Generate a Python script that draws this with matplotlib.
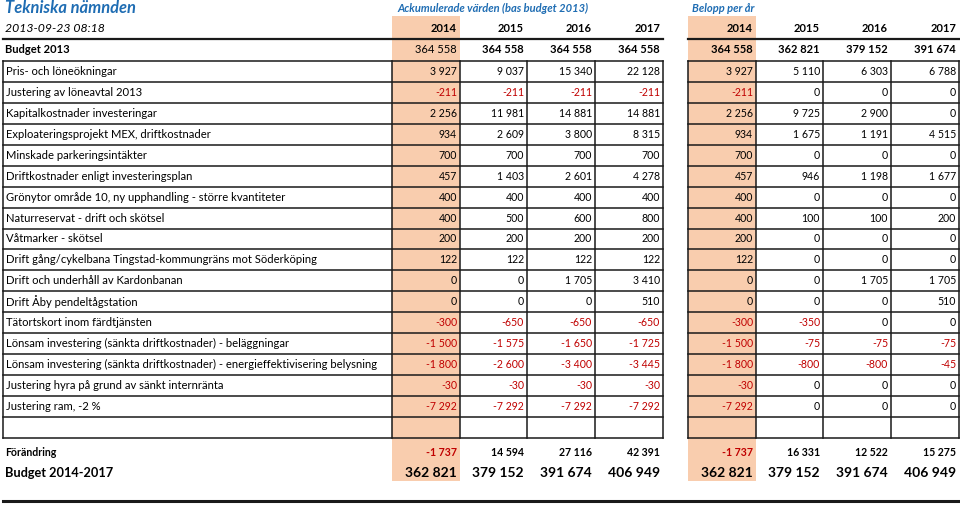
import matplotlib.pyplot as plt

plt.rcParams['font.family'] = ['Lato', 'DejaVu Sans']

title = "Tekniska nämnden"
timestamp = "2013-09-23 08:18"
group_titles = ["Ackumulerade värden (bas budget 2013)", "Belopp per år"]
years = ["2014", "2015", "2016", "2017"]

labels = [
    "Pris- och löneökningar",
    "Justering av löneavtal 2013",
    "Kapitalkostnader investeringar",
    "Exploateringsprojekt MEX, driftkostnader",
    "Minskade parkeringsintäkter",
    "Driftkostnader enligt investeringsplan",
    "Grönytor område 10, ny upphandling - större kvantiteter",
    "Naturreservat - drift och skötsel",
    "Våtmarker - skötsel",
    "Drift gång/cykelbana Tingstad-kommungräns mot Söderköping",
    "Drift och underhåll av Kardonbanan",
    "Drift Åby pendeltågstation",
    "Tätortskort inom färdtjänsten",
    "Lönsam investering (sänkta driftkostnader) - beläggningar",
    "Lönsam investering (sänkta driftkostnader) - energieffektivisering belysning",
    "Justering hyra på grund av sänkt internränta",
    "Justering ram, -2 %",
]

# accumulated values (bas budget 2013), 2014..2017
acc = [
    [3927, 9037, 15340, 22128],
    [-211, -211, -211, -211],
    [2256, 11981, 14881, 14881],
    [934, 2609, 3800, 8315],
    [700, 700, 700, 700],
    [457, 1403, 2601, 4278],
    [400, 400, 400, 400],
    [400, 500, 600, 800],
    [200, 200, 200, 200],
    [122, 122, 122, 122],
    [0, 0, 1705, 3410],
    [0, 0, 0, 510],
    [-300, -650, -650, -650],
    [-1500, -1575, -1650, -1725],
    [-1800, -2600, -3400, -3445],
    [-30, -30, -30, -30],
    [-7292, -7292, -7292, -7292],
]

# amount per year, 2014..2017
per_year = [
    [3927, 5110, 6303, 6788],
    [-211, 0, 0, 0],
    [2256, 9725, 2900, 0],
    [934, 1675, 1191, 4515],
    [700, 0, 0, 0],
    [457, 946, 1198, 1677],
    [400, 0, 0, 0],
    [400, 100, 100, 200],
    [200, 0, 0, 0],
    [122, 0, 0, 0],
    [0, 0, 1705, 1705],
    [0, 0, 0, 510],
    [-300, -350, 0, 0],
    [-1500, -75, -75, -75],
    [-1800, -800, -800, -45],
    [-30, 0, 0, 0],
    [-7292, 0, 0, 0],
]

budget_2013_acc = [364558, 364558, 364558, 364558]
budget_2013_per = [364558, 362821, 379152, 391674]
change_acc = [-1737, 14594, 27116, 42391]
change_per = [-1737, 16331, 12522, 15275]
budget_new_acc = [362821, 379152, 391674, 406949]
budget_new_per = [362821, 379152, 391674, 406949]

BLUE = '#1F6DB3'
RED = '#C00000'
ORANGE = '#F9CDAE'
LINE = '#1a1a1a'


def fmt(v):
    s = f"{abs(v):,}".replace(",", " ")
    return ("-" if v < 0 else "") + s


fig = plt.figure(figsize=(9.6, 5.05), dpi=100)
ax = fig.add_axes([0, 0, 1, 1])
ax.set_xlim(0, 960)
ax.set_ylim(505, 0)
ax.axis('off')

# column geometry (pixels)
lab_x0 = 3
left_cols = [392, 460, 527, 595, 663]
right_cols = [688, 756, 823, 891, 959]
pad = 3
top = 61
rh = 20.94
n = len(labels) + 1  # plus empty row
bottom = top + n * rh

# orange shading for 2014 columns
for cols in (left_cols, right_cols):
    ax.add_patch(plt.Rectangle((cols[0], 16), cols[1] - cols[0], 481 - 16,
                               color=ORANGE, lw=0, zorder=0))

# titles
ax.text(5, 8, title, color=BLUE, fontsize=11.9, fontweight='bold',
        fontstyle='italic', va='center', ha='left')
ax.text(left_cols[0] + 5, 8, group_titles[0], color=BLUE, fontsize=8,
        fontweight='bold', fontstyle='italic', va='center')
ax.text(right_cols[0] + 4, 8, group_titles[1], color=BLUE, fontsize=8,
        fontweight='bold', fontstyle='italic', va='center')
ax.text(5, 29, timestamp, fontsize=8.8, fontstyle='italic', va='center')

# header line
ax.plot([lab_x0, left_cols[-1]], [38.5, 38.5], color=LINE, lw=1.6)
ax.plot([right_cols[0], right_cols[-1]], [38.5, 38.5], color=LINE, lw=1.6)
# bottom line
ax.plot([lab_x0, right_cols[-1]], [501, 501], color=LINE, lw=2.2)

for cols in (left_cols, right_cols):
    for j, y in enumerate(years):
        ax.text(cols[j + 1] - pad, 29, y, fontsize=8, fontweight='bold',
                ha='right', va='center')

# Budget 2013 row
ax.text(5, 49.5, "Budget 2013", fontsize=8, fontweight='bold', va='center')
for cols, vals in ((left_cols, budget_2013_acc), (right_cols, budget_2013_per)):
    for j, v in enumerate(vals):
        w = 'normal' if (cols is left_cols and j == 0) else 'bold'
        ax.text(cols[j + 1] - pad, 49.5, fmt(v), fontsize=8, fontweight=w,
                ha='right', va='center')

# grid of table
for i in range(n + 1):
    y = top + i * rh
    ax.plot([lab_x0, left_cols[-1]], [y, y], color=LINE, lw=1.1)
    ax.plot([right_cols[0], right_cols[-1]], [y, y], color=LINE, lw=1.1)
for x in [lab_x0] + left_cols + right_cols:
    ax.plot([x, x], [top, bottom], color=LINE, lw=1.1)

# body rows
for i, lab in enumerate(labels):
    yc = top + (i + 0.5) * rh
    ax.text(6, yc, lab, fontsize=8.1, va='center', ha='left')
    for cols, vals in ((left_cols, acc[i]), (right_cols, per_year[i])):
        for j, v in enumerate(vals):
            ax.text(cols[j + 1] - pad, yc, fmt(v), fontsize=7.6,
                    color=RED if v < 0 else 'black', ha='right', va='center')

# summary rows
ax.text(5, 452, "Förändring", fontsize=7.6, fontweight='bold', va='center')
ax.text(5, 473, "Budget 2014-2017", fontsize=9.2, fontweight='bold', va='center')
for cols, ch, bn in ((left_cols, change_acc, budget_new_acc),
                     (right_cols, change_per, budget_new_per)):
    for j in range(4):
        v = ch[j]
        ax.text(cols[j + 1] - pad, 452, fmt(v), fontsize=7.6, fontweight='bold',
                color=RED if v < 0 else 'black', ha='right', va='center')
        ax.text(cols[j + 1] - pad, 473, fmt(bn[j]), fontsize=10, fontweight='bold',
                ha='right', va='center')

fig.savefig('out.png', dpi=100)
